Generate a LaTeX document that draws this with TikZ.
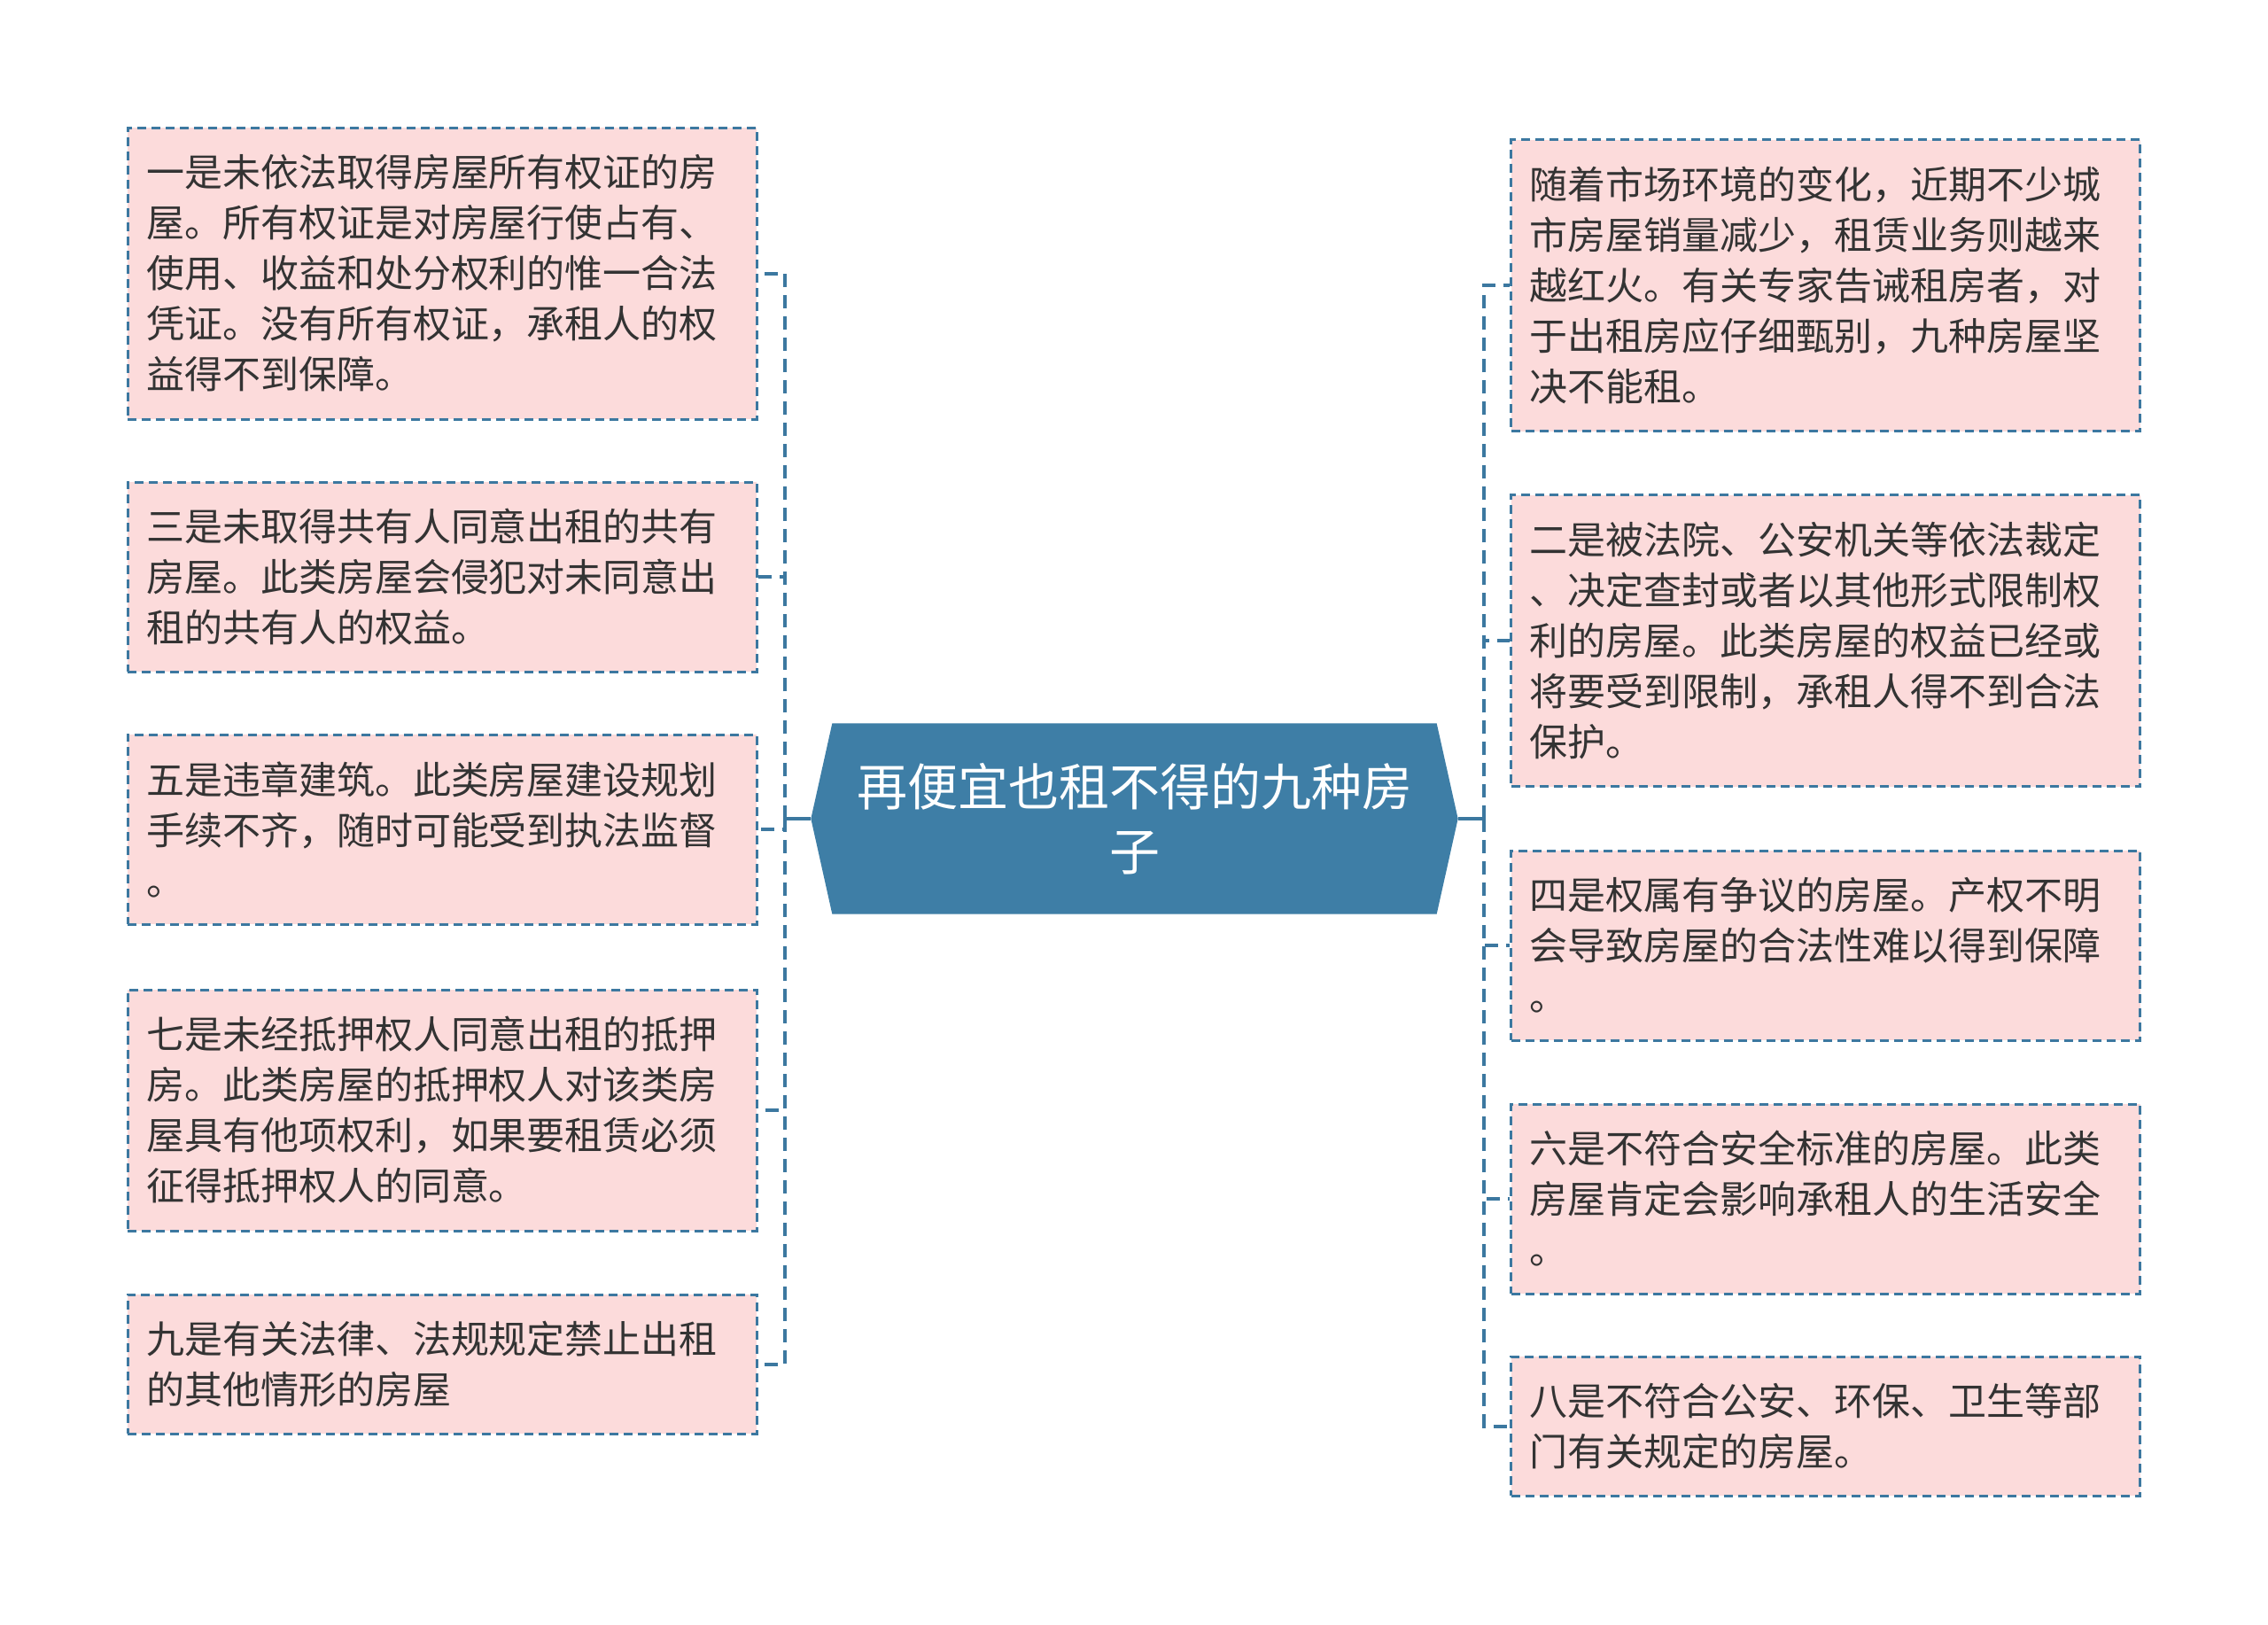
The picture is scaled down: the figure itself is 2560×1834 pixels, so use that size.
\documentclass[tikz,border=0pt]{standalone}
\usepackage{fontspec}
\newfontfamily\cjk{Noto Sans CJK SC}
\usetikzlibrary{calc,backgrounds}
\definecolor{boxfill}{HTML}{FCDBDB}
\definecolor{edge}{HTML}{3C78A0}
\definecolor{mainfill}{HTML}{3E7EA6}
\definecolor{txt}{HTML}{333333}
\begin{document}
\begin{tikzpicture}[x=0.3pt,y=-0.3pt,
  leaf/.style={draw=edge, line width=0.9pt, dash pattern=on 3pt off 1.8pt,
    fill=boxfill, text=txt, font=\cjk\fontsize{12.9}{17.1}\selectfont,
    text width=200.4pt, align=left, inner xsep=6.3pt, inner ysep=0pt,
    minimum width=213pt, anchor=center},
  h5/.style={minimum height=98.7pt},
  h4/.style={minimum height=81.6pt},
  h3/.style={minimum height=64.2pt},
  h2/.style={minimum height=47.1pt},
  mainnode/.style={text=white, font=\cjk\fontsize{17.1}{22}\selectfont,
    align=center, minimum width=204.3pt, minimum height=64.2pt, inner sep=0pt},
  conn/.style={draw=edge, line width=1.2pt, dash pattern=on 4.5pt off 2.7pt},
  connsolid/.style={draw=edge, line width=1.2pt}]
\useasboundingbox (0,0) rectangle (2560,1834);

% central topic
\node[mainnode] (c) at (1280.5,924) {再便宜也租不得的九种房\\子};
\coordinate (ctl) at ($(c.west)+(-24,0)$);
\coordinate (ctr) at ($(c.east)+(24,0)$);
\begin{scope}[on background layer]
  \fill[mainfill] (c.north west) -- (c.north east) -- (ctr) -- (c.south east)
    -- (c.south west) -- (ctl) -- cycle;
\end{scope}

% left leaves
\node[leaf,h5] (L1) at (499,308.5) {一是未依法取得房屋所有权证的房\\屋。所有权证是对房屋行使占有、\\使用、收益和处分权利的惟一合法\\凭证。没有所有权证，承租人的权\\益得不到保障。};
\node[leaf,h3] (L2) at (499,651) {三是未取得共有人同意出租的共有\\房屋。此类房屋会侵犯对未同意出\\租的共有人的权益。};
\node[leaf,h3] (L3) at (499,936) {五是违章建筑。此类房屋建设规划\\手续不齐，随时可能受到执法监督\\。};
\node[leaf,h4] (L4) at (499,1253) {七是未经抵押权人同意出租的抵押\\房。此类房屋的抵押权人对该类房\\屋具有他项权利，如果要租赁必须\\征得抵押权人的同意。};
\node[leaf,h2] (L5) at (499,1539.5) {九是有关法律、法规规定禁止出租\\的其他情形的房屋};

% right leaves
\node[leaf,h5] (R1) at (2060.5,322) {随着市场环境的变化，近期不少城\\市房屋销量减少，租赁业务则越来\\越红火。有关专家告诫租房者，对\\于出租房应仔细甄别，九种房屋坚\\决不能租。};
\node[leaf,h5] (R2) at (2060.5,723) {二是被法院、公安机关等依法裁定\\、决定查封或者以其他形式限制权\\利的房屋。此类房屋的权益已经或\\将要受到限制，承租人得不到合法\\保护。};
\node[leaf,h3] (R3) at (2060.5,1067) {四是权属有争议的房屋。产权不明\\会导致房屋的合法性难以得到保障\\。};
\node[leaf,h3] (R4) at (2060.5,1353) {六是不符合安全标准的房屋。此类\\房屋肯定会影响承租人的生活安全\\。};
\node[leaf,h2] (R5) at (2060.5,1609.5) {八是不符合公安、环保、卫生等部\\门有关规定的房屋。};

% connectors
\coordinate (jl) at (886,924);
\coordinate (jr) at (1675,924);
\draw[connsolid] (ctl) -- (jl);
\draw[connsolid] (ctr) -- (jr);
\foreach \n in {L1,L2,L3,L4,L5} \draw[conn] (jl) |- (\n.east);
\foreach \n in {R1,R2,R3,R4,R5} \draw[conn] (jr) |- (\n.west);
\end{tikzpicture}
\end{document}
